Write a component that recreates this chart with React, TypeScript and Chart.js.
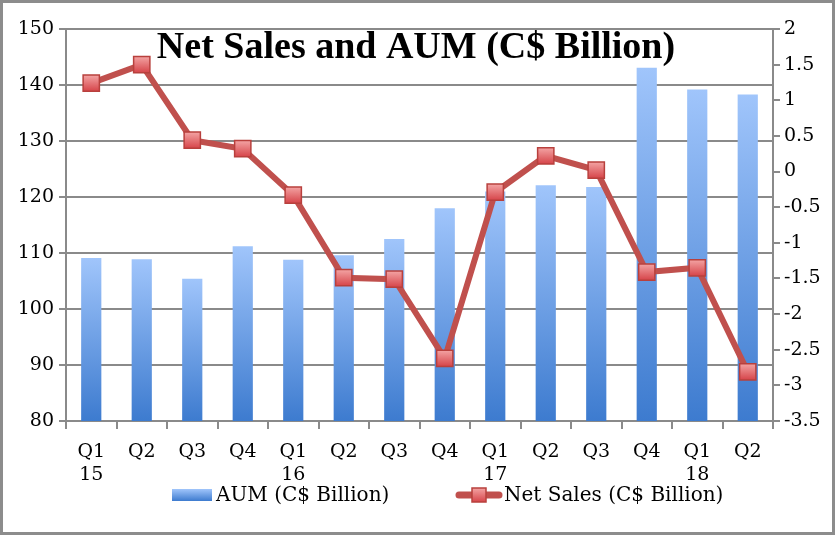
import React, { useEffect, useRef } from "react";
import { Chart, registerables } from "chart.js";

Chart.register(...registerables);

const quarters = [
  ["Q1", "15"], ["Q2"], ["Q3"], ["Q4"],
  ["Q1", "16"], ["Q2"], ["Q3"], ["Q4"],
  ["Q1", "17"], ["Q2"], ["Q3"], ["Q4"],
  ["Q1", "18"], ["Q2"],
];
const aum = [109.1, 108.9, 105.4, 111.2, 108.8, 109.6, 112.5, 118, 121, 122.1, 121.8, 143.1, 139.2, 138.3];
const netSales = [1.24, 1.5, 0.44, 0.32, -0.33, -1.49, -1.51, -2.62, -0.29, 0.22, 0.02, -1.41, -1.35, -2.81];
const leftTicks = [80, 90, 100, 110, 120, 130, 140, 150];
const rightTicks = [-3.5, -3, -2.5, -2, -1.5, -1, -0.5, 0, 0.5, 1, 1.5, 2];

const FONT = "'DejaVu Serif', serif";
const TITLE_FONT = "'Liberation Serif', serif";
const GRID = "#8a8a8a";
const LINE_RED = "#c0504d";

function barGradient(ctx: CanvasRenderingContext2D, top: number, bottom: number) {
  const g = ctx.createLinearGradient(0, top, 0, bottom);
  g.addColorStop(0, "#a0c5fb");
  g.addColorStop(1, "#3d7bcf");
  return g;
}

function markerGradient(ctx: CanvasRenderingContext2D, top: number, bottom: number) {
  const g = ctx.createLinearGradient(0, top, 0, bottom);
  g.addColorStop(0, "#f3a3a3");
  g.addColorStop(1, "#d6454a");
  return g;
}

// white background, frame, title and legend drawn by hand
const decor = {
  id: "decor",
  beforeDraw(chart: Chart) {
    const { ctx, width, height } = chart;
    ctx.save();
    ctx.fillStyle = "#fff";
    ctx.fillRect(0, 0, width, height);
    ctx.restore();
  },
  afterDraw(chart: Chart) {
    const { ctx, width, height } = chart;
    const labels = chart.data.datasets.map((d) => d.label as string);
    ctx.save();
    ctx.strokeStyle = "#8c8c8c";
    ctx.lineWidth = 3;
    ctx.strokeRect(1.5, 1.5, width - 3, height - 3);

    ctx.fillStyle = "#000";
    ctx.font = `bold 38px ${TITLE_FONT}`;
    ctx.textAlign = "center";
    ctx.textBaseline = "alphabetic";
    ctx.fillText("Net Sales and AUM (C$ Billion)", 416, 58);

    // legend
    const ly = 495;
    ctx.fillStyle = barGradient(ctx, ly - 6, ly + 6);
    ctx.fillRect(172, ly - 6, 40, 12);

    ctx.strokeStyle = LINE_RED;
    ctx.lineWidth = 7;
    ctx.lineCap = "round";
    ctx.beginPath();
    ctx.moveTo(459, ly);
    ctx.lineTo(499, ly);
    ctx.stroke();
    ctx.fillStyle = markerGradient(ctx, ly - 7, ly + 7);
    ctx.fillRect(472, ly - 7, 14, 14);
    ctx.strokeStyle = "#b8403d";
    ctx.lineWidth = 1.5;
    ctx.strokeRect(472, ly - 7, 14, 14);

    ctx.fillStyle = "#000";
    ctx.font = `20px ${FONT}`;
    ctx.textAlign = "left";
    ctx.textBaseline = "middle";
    ctx.fillText(labels[0], 216, ly + 1);
    ctx.fillText(labels[1], 504, ly + 1);
    ctx.restore();
  },
};

const App = () => {
  const chartRef = useRef<HTMLCanvasElement | null>(null);
  const chartInstance = useRef<Chart | null>(null);

  useEffect(() => {
    if (chartInstance.current) chartInstance.current.destroy();
    const ctx = chartRef.current?.getContext("2d");
    if (!ctx) return;

    chartInstance.current = new Chart(ctx, {
      type: "bar",
      data: {
        labels: quarters,
        datasets: [
          {
            type: "bar",
            label: "AUM (C$ Billion)",
            data: aum,
            yAxisID: "y",
            order: 2,
            backgroundColor: (c: any) => {
              const area = c.chart.chartArea;
              if (!area) return "#6a9fe6";
              const top = c.chart.scales.y.getPixelForValue(c.raw);
              return barGradient(c.chart.ctx, top, area.bottom);
            },
            barPercentage: 0.4,
            categoryPercentage: 1,
          },
          {
            type: "line",
            label: "Net Sales (C$ Billion)",
            data: netSales,
            yAxisID: "y1",
            order: 1,
            borderColor: LINE_RED,
            borderWidth: 6,
            pointStyle: "rect",
            pointRadius: 11.5,
            pointBorderColor: "#b8403d",
            pointBorderWidth: 1.5,
            pointBackgroundColor: (c: any) => {
              const area = c.chart.chartArea;
              if (!area) return "#e06060";
              const py = c.chart.scales.y1.getPixelForValue(c.raw);
              return markerGradient(c.chart.ctx, py - 8, py + 8);
            },
          },
        ],
      },
      options: {
        responsive: true,
        maintainAspectRatio: false,
        animation: false,
        layout: { padding: { top: 29, left: 0, right: 0, bottom: 44 } },
        plugins: {
          title: { display: false },
          tooltip: { enabled: false },
          legend: { display: false },
        },
        scales: {
          x: {
            offset: true,
            grid: {
              display: true,
              drawOnChartArea: false,
              offset: true,
              color: GRID,
              lineWidth: 2,
              tickLength: 8,
            },
            border: { color: GRID, width: 2 },
            ticks: {
              font: { family: FONT, size: 19 },
              color: "#000",
              maxRotation: 0,
              autoSkip: false,
              padding: 12,
            },
            afterFit: (s: any) => {
              s.height = 70;
            },
          },
          y: {
            position: "left",
            min: 80,
            max: 150,
            afterBuildTicks: (s: any) => {
              s.ticks = leftTicks.map((v) => ({ value: v }));
            },
            grid: { color: GRID, lineWidth: 2, tickLength: 7 },
            border: { color: GRID, width: 2 },
            ticks: {
              font: { family: FONT, size: 19 },
              color: "#000",
              padding: 5,
            },
            afterFit: (s: any) => {
              s.width = 66;
            },
          },
          y1: {
            position: "right",
            min: -3.5,
            max: 2,
            afterBuildTicks: (s: any) => {
              s.ticks = rightTicks.map((v) => ({ value: v }));
            },
            grid: { drawOnChartArea: false, color: GRID, lineWidth: 2, tickLength: 7 },
            border: { color: GRID, width: 2 },
            ticks: {
              font: { family: FONT, size: 19 },
              color: "#000",
              padding: 4,
              callback: (v: any) => String(v),
            },
            afterFit: (s: any) => {
              s.width = 62;
            },
          },
        },
      },
      plugins: [decor],
    });

    return () => {
      if (chartInstance.current) chartInstance.current.destroy();
    };
  }, []);

  return (
    <div style={{ position: "fixed", left: 0, top: 0, width: 835, height: 535 }}>
      <canvas ref={chartRef}></canvas>
    </div>
  );
};

export default App;
